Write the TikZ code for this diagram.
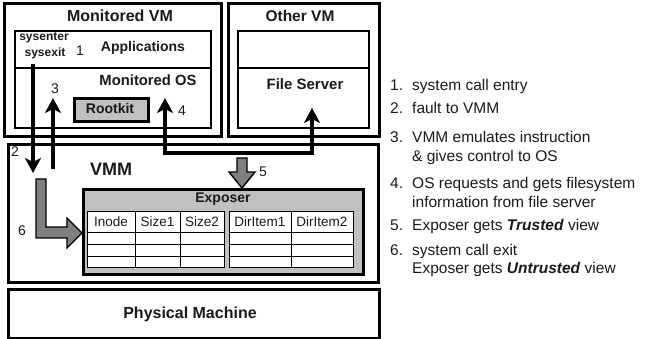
\documentclass[tikz,border=0pt]{standalone}
\usepackage{fontspec}
\setmainfont{Liberation Sans}
\usetikzlibrary{arrows.meta}
\definecolor{lgray}{HTML}{C0C0C0}
\definecolor{dgray}{HTML}{808080}
\definecolor{txt}{HTML}{1A1A1A}
\begin{document}
\begin{tikzpicture}[x=1pt,y=-1pt,
  box/.style={draw=black, line width=2.6pt, inner sep=0pt, anchor=north west},
  inbox/.style={draw=black, line width=2.2pt, inner sep=0pt, anchor=north west},
  tbl/.style={draw=black, fill=white, line width=1.2pt, inner sep=0pt, anchor=north west},
  grid/.style={line width=0.8pt},
  lbl/.style={font=\fontsize{14}{16}\selectfont\bfseries, inner sep=0pt, text=txt},
  num/.style={font=\fontsize{14}{16}\selectfont, inner sep=0pt, text=txt},
  cell/.style={font=\fontsize{13.5}{15}\selectfont, inner sep=0pt, text=txt},
  li/.style={font=\fontsize{15.5}{19}\selectfont, inner sep=0pt, anchor=base west, text=txt},
  blk/.style={line width=3.5pt, -{Stealth[length=15pt,width=16pt,inset=4pt]}},
  blk2/.style={line width=3.5pt, {Stealth[length=15pt,width=16pt,inset=4pt]}-{Stealth[length=15pt,width=16pt,inset=4pt]}},
  gblock/.style={fill=dgray, draw=black, line width=1.4pt, line join=miter}
]
\useasboundingbox (0,0) rectangle (646,339);

% ---------- boxes ----------
\node[box, minimum width=217pt, minimum height=133pt] (mvm) at (3,2) {};
\node[inbox, minimum width=196pt, minimum height=97pt] (mvmin) at (14,30) {};
\draw[line width=2.2pt] (mvmin.west |- 0,68) coordinate (d1a) -- (mvmin.east |- 0,68) coordinate (d1b);

\node[box, minimum width=151pt, minimum height=133pt] (ovm) at (227,2) {};
\node[inbox, minimum width=131pt, minimum height=97pt] (ovmin) at (237,30) {};
\draw[line width=2.2pt] (ovmin.west |- 0,68) coordinate (d2a) -- (ovmin.east |- 0,68) coordinate (d2b);

\node[box, minimum width=370pt, minimum height=138pt] (vmm) at (7,143) {};
\node[box, minimum width=371pt, minimum height=49pt] (pm) at (7,288) {};

\node[box, fill=lgray, minimum width=280pt, minimum height=85pt] (exp) at (82,188) {};
\node[box, fill=lgray, minimum width=74pt, minimum height=23pt] (rk) at (73,97) {};

% tables
\node[tbl, minimum width=137pt, minimum height=56pt] (t1) at (87,211) {};
\node[tbl, minimum width=124pt, minimum height=56pt] (t2) at (229,211) {};
\foreach \yy in {232,244,256} {
  \draw[grid] (t1.west |- 0,\yy) -- (t1.east |- 0,\yy);
  \draw[grid] (t2.west |- 0,\yy) -- (t2.east |- 0,\yy);
}
\draw[grid] (135,211) -- (135,267);
\draw[grid] (180,211) -- (180,267);
\draw[grid] (291,211) -- (291,267);

% ---------- texts ----------
\node[lbl, font=\fontsize{16}{18}\selectfont\bfseries] (tmvm) at (120,16) {Monitored VM};
\node[lbl, font=\fontsize{12}{13}\selectfont\bfseries] (tse) at (44,38) {sysenter};
\node[lbl, font=\fontsize{12}{13}\selectfont\bfseries] (tsx) at (45,53) {sysexit};
\node[num] (n1) at (80,51) {1};
\node[lbl] (tapp) at (143,48) {Applications};
\node[lbl, font=\fontsize{14.8}{16}\selectfont\bfseries] (tos) at (148,80) {Monitored OS};
\node[lbl] (trk) at (110,108) {Rootkit};
\node[num] (n3) at (55,89) {3};
\node[num] (n4) at (182,111) {4};

\node[lbl, font=\fontsize{15.5}{18}\selectfont\bfseries] (tovm) at (300,16) {Other VM};
\node[lbl, font=\fontsize{15}{18}\selectfont\bfseries] (tfs) at (305,84) {File Server};

\node[lbl, font=\fontsize{18}{20}\selectfont\bfseries] (tvmm) at (111,169) {VMM};
\node[num] (n2) at (15,152) {2};
\node[num] (n6) at (22,231) {6};
\node[num] (n5) at (263,172) {5};
\node[lbl] (texp) at (223,199) {Exposer};

\node[cell] (c1) at (111,222) {Inode};
\node[cell] (c2) at (157.5,222) {Size1};
\node[cell] (c3) at (202,222) {Size2};
\node[cell] (c4) at (260,222) {DirItem1};
\node[cell] (c5) at (322,222) {DirItem2};

\node[lbl, font=\fontsize{16}{18}\selectfont\bfseries] (tpm) at (190,314) {Physical Machine};

% ---------- list ----------
\node[li] (l1n) at (390,90.5) {1.};
\node[li] (l1) at (412,90.5) {system call entry};
\node[li] (l2n) at (390,113.5) {2.};
\node[li] (l2) at (412,113.5) {fault to VMM};
\node[li] (l3n) at (390,142.5) {3.};
\node[li] (l3) at (412,142.5) {VMM emulates instruction};
\node[li] (l3b) at (412,161.5) {\& gives control to OS};
\node[li] (l4n) at (390,188.5) {4.};
\node[li] (l4) at (412,188.5) {OS requests and gets filesystem};
\node[li] (l4b) at (412,207.5) {information from file server};
\node[li] (l5n) at (390,230.5) {5.};
\node[li] (l5) at (412,230.5) {Exposer gets \textbf{\textit{Trusted}} view};
\node[li] (l6n) at (390,255.5) {6.};
\node[li] (l6) at (412,255.5) {system call exit};
\node[li] (l6b) at (412,273.5) {Exposer gets \textbf{\textit{Untrusted}} view};

% ---------- arrows ----------
\coordinate (a2s) at (33,64);
\coordinate (a2e) at (33,173);
\draw[blk] (a2s) -- (a2e);
\coordinate (a3s) at (53,169);
\coordinate (a3e) at (53,98);
\draw[blk] (a3s) -- (a3e);
\coordinate (a4s) at (165,98);
\coordinate (a4e) at (312,108);
\draw[blk2] (a4s) -- (a4s |- 0,153) -- (a4e |- 0,153) -- (a4e);

% block arrow 5 (down into Exposer)
\draw[gblock] (237,158) -- (247,158) -- (247,172) -- (255,172) -- (exp.north -| 242,0) -- (229,172) -- (237,172) -- cycle;
% block arrow 6 (L-shaped into Exposer)
\draw[gblock] (36,179) -- (46,179) -- (46,227) -- (67,227) -- (67,218) -- (exp.west |- 0,233) -- (67,248) -- (67,238) -- (36,238) -- cycle;
\end{tikzpicture}
\end{document}
